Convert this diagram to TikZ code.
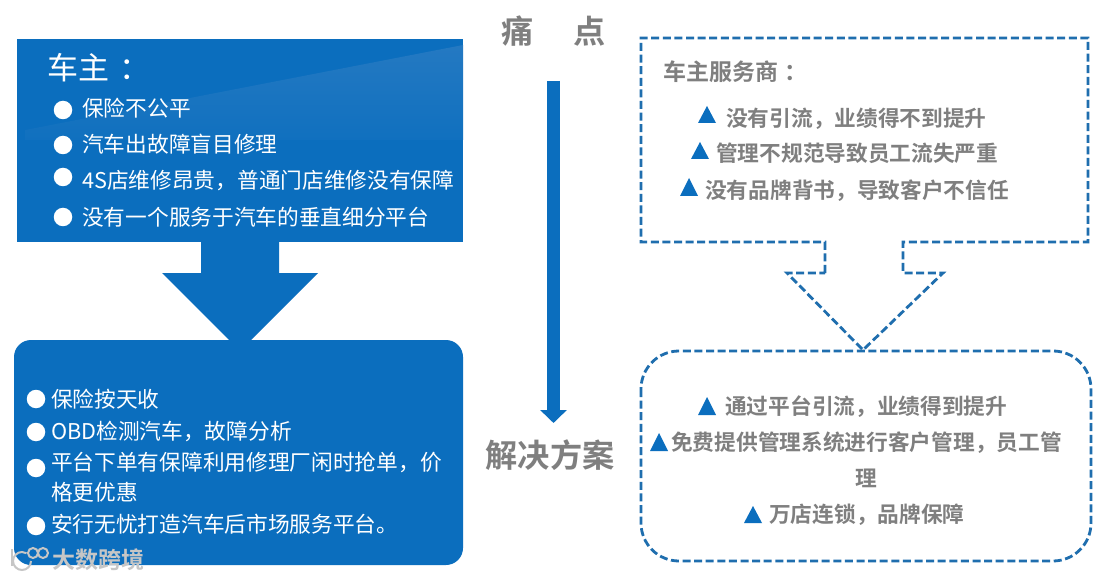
\documentclass[tikz,border=0pt]{standalone}
\usepackage{fontspec}
\setmainfont{Noto Sans CJK SC}
\newfontfamily\cjkbold{Noto Sans CJK SC Bold}
\usetikzlibrary{arrows.meta}
\definecolor{mainblue}{HTML}{0B6EBE}
\definecolor{glossblue}{HTML}{2479C2}
\definecolor{dashblue}{HTML}{1F6EAE}
\definecolor{greytext}{HTML}{7F7F7F}
\definecolor{markgrey}{HTML}{C6C6C6}
\tikzset{
  dashline/.style={draw=dashblue,line width=2.8pt,dash pattern=on 8pt off 3.6pt,line join=miter},
  whitetext/.style={anchor=west,inner sep=0pt,text=white,text height=19pt,text depth=2.5pt,font=\fontsize{21.7}{26}\selectfont},
  greybold/.style={anchor=west,inner sep=0pt,text=greytext,text height=19pt,text depth=2.5pt,font=\cjkbold\fontsize{21.7}{26}\selectfont},
  headtext/.style={anchor=center,inner sep=0pt,text=greytext,font=\cjkbold\fontsize{32.2}{38}\selectfont},
  dotmark/.style={circle,fill=white,draw=none,minimum size=18.5pt,inner sep=0pt},
  trimark/.style={fill=mainblue,draw=none},
}
\newcommand{\trimarkat}[3]{\fill[trimark] (#1,#3) -- (#1+18,#3) -- (#1+9,#2) -- cycle;}
\begin{document}
\begin{tikzpicture}[x=1pt,y=-1pt]
\useasboundingbox (0,0) rectangle (1106,580);
\fill[white] (0,0) rectangle (1106,580);
% block arrow, drawn under the two boxes
\fill[mainblue] (201,240) -- (279,240) -- (279,273) -- (318,273) -- (240,351) -- (162,273) -- (201,273) -- cycle;
% top box
\fill[mainblue] (17,39) rectangle (463,242);
\begin{scope}
  \clip (25,130) -- (463,45) -- (463,140) -- (25,140) -- cycle;
  \shade[top color=glossblue,bottom color=mainblue!80!glossblue] (25,45) rectangle (463,140);
\end{scope}
\node[anchor=west,inner sep=0pt,text=white,font=\fontsize{31}{36}\selectfont] (owner) at (47,68) {车主\hspace{10pt}：};
\node[dotmark] (d1) at (63,110) {};
\node[dotmark] (d2) at (63,145) {};
\node[dotmark] (d3) at (63,177) {};
\node[dotmark] (d4) at (63,217) {};
\node[whitetext] (p1) at (82,108) {保险不公平};
\node[whitetext] (p2) at (82,144) {汽车出故障盲目修理};
\node[whitetext] (p3) at (82,180) {4S店维修昂贵，普通门店维修没有保障};
\node[whitetext] (p4) at (82,217) {没有一个服务于汽车的垂直细分平台};
% lower box
\fill[mainblue,rounded corners=17pt] (14,340) rectangle (463,565);
\node[dotmark] (e1) at (36,399) {};
\node[dotmark] (e2) at (36,432) {};
\node[dotmark] (e3) at (36,468) {};
\node[dotmark] (e4) at (36,526) {};
\node[whitetext] (s1) at (51,399) {保险按天收};
\node[whitetext] (s2) at (51,431) {OBD检测汽车，故障分析};
\node[whitetext] (s3) at (51,462) {平台下单有保障利用修理厂闲时抢单，价};
\node[whitetext] (s3b) at (51,492) {格更优惠};
\node[whitetext] (s4) at (51,524) {安行无忧打造汽车后市场服务平台。};
% centre
\node[headtext] (pain) at (554,31) {痛\hspace{40pt}点};
\node[headtext] (sol) at (550,455) {解决方案};
\coordinate (arrowtop) at (553.5,81);
\coordinate (arrowtip) at (553.5,423);
\draw[mainblue,line width=13pt,-{Triangle[width=26pt,length=13pt]}] (arrowtop) -- (arrowtip);
% right top dashed callout
\draw[dashline] (825,273) -- (825,242) -- (641,242) -- (641,38) -- (1088,38) -- (1088,242) -- (903,242) -- (903,273) -- (943,273) -- (863,350) -- (787,273) -- cycle;
\node[anchor=west,inner sep=0pt,text=greytext,font=\cjkbold\fontsize{23}{28}\selectfont] (svc) at (663,72) {车主服务商\hspace{6pt}：};
\trimarkat{698}{106}{123}
\trimarkat{691}{142}{159}
\trimarkat{680}{178}{196}
\node[greybold] (q1) at (726,118) {没有引流，业绩得不到提升};
\node[greybold] (q2) at (716,153) {管理不规范导致员工流失严重};
\node[greybold] (q3) at (705,190) {没有品牌背书，导致客户不信任};
% right lower dashed box
\draw[dashline,rounded corners=38pt] (641,351) rectangle (1091,561);
\trimarkat{698}{397}{415}
\trimarkat{650}{433}{451}
\trimarkat{744}{506}{523}
\node[greybold] (r1) at (725,406) {通过平台引流，业绩得到提升};
\node[greybold] (r2) at (671,442) {免费提供管理系统进行客户管理，员工管};
\node[greybold] (r2b) at (855.5,478) {理};
\node[greybold] (r3) at (769,514) {万店连锁，品牌保障};
% watermark
\begin{scope}[draw=markgrey,line width=2pt]
  \draw (12,549) -- (12,566);
  \draw (31,561) arc (0:300:9);
  \draw (33,553) circle (5);
  \draw (43,553) circle (5);
\end{scope}
\node[anchor=west,inner sep=0pt,text=markgrey,font=\cjkbold\fontsize{23}{28}\selectfont] (mark) at (52,560) {大数跨境};
\end{tikzpicture}
\end{document}
